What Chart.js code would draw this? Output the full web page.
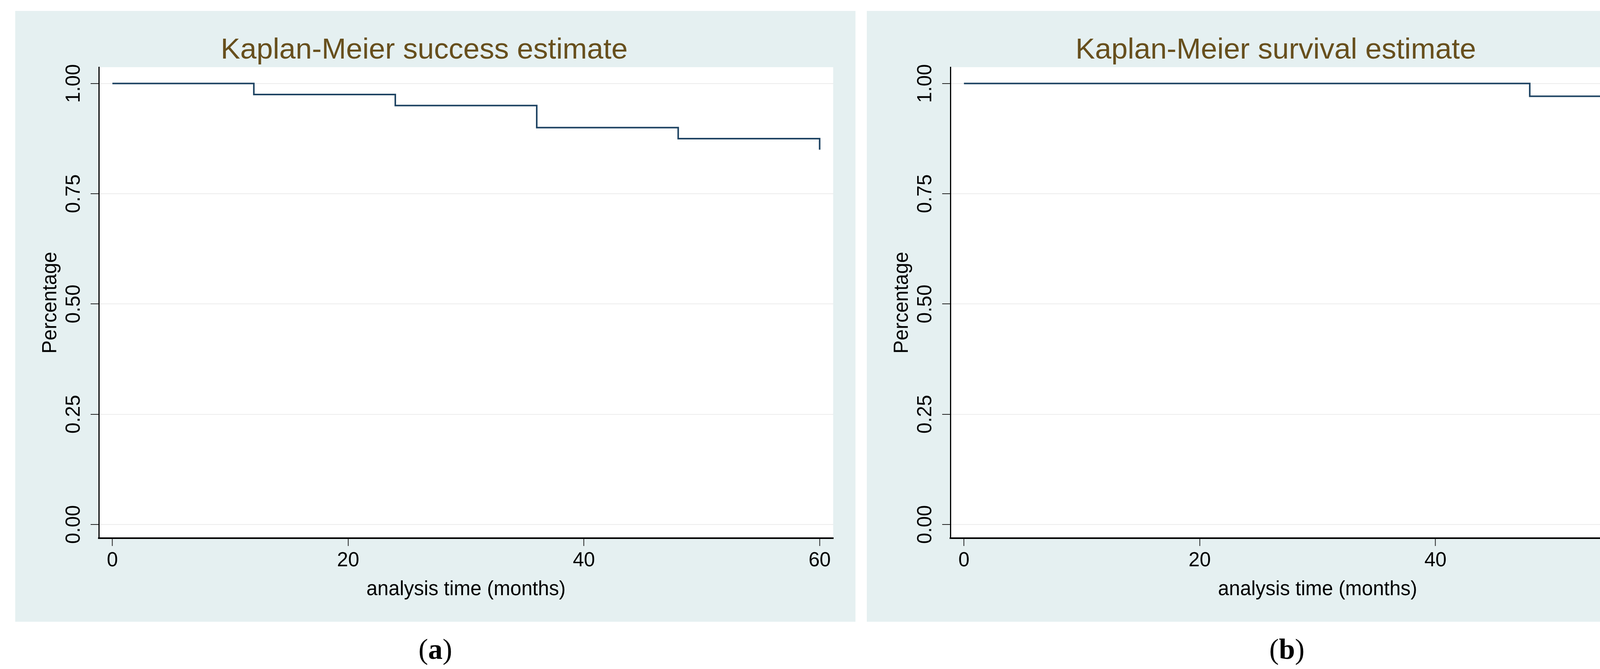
<!DOCTYPE html>
<html>
<head>
<meta charset="utf-8">
<script src="https://cdn.jsdelivr.net/npm/chart.js@4.4.1/dist/chart.umd.min.js"></script>
<style>
  html, body { margin: 0; padding: 0; background: #ffffff; }
  body { width: 4392px; height: 1713px; position: relative; overflow: hidden; }
  .panel { position: absolute; top: 28px; width: 2151px; height: 1564px; background: #e5f0f1; }
  .panel canvas { display: block; }
  .caption {
    position: absolute; top: 1620px; width: 2151px; text-align: center;
    font-family: "Liberation Serif", "DejaVu Serif", serif; font-size: 74px; color: #000;
    line-height: 84px;
  }
  .caption b { font-weight: bold; }
</style>
</head>
<body>
<div class="panel" style="left:39px"><canvas id="chart-success" width="2151" height="1564"></canvas></div>
<div class="panel" style="left:2219px"><canvas id="chart-survival" width="2151" height="1564"></canvas></div>
<div class="caption" style="left:39px">(<b>a</b>)</div>
<div class="caption" style="left:2219px">(<b>b</b>)</div>

<script>
document.addEventListener('DOMContentLoaded', () => {

  /* ========================================================
     1. DATA
     ======================================================== */
  const successTimes = [0, 12, 24, 36, 48, 60];
  const successValues = [1.00, 0.975, 0.95, 0.90, 0.875, 0.85];

  const survivalTimes = [0, 48, 60];
  const survivalValues = [1.00, 0.971, 0.943];

  const xTicks = [0, 20, 40, 60];
  const yTicks = [0, 0.25, 0.5, 0.75, 1];
  const yTickLabels = ['0.00', '0.25', '0.50', '0.75', '1.00'];

  const titleA = 'Kaplan-Meier success estimate';
  const titleB = 'Kaplan-Meier survival estimate';
  const xTitle = 'analysis time (months)';
  const yTitle = 'Percentage';

  /* ========================================================
     2. SHARED STYLE
     ======================================================== */
  const fontFamily = "'Liberation Sans', Arial, Helvetica, sans-serif";
  const lineColor = '#1f4463';
  const titleColor = '#674f1d';

  // white plot region behind the curve
  const plotRegionBg = {
    id: 'plotRegionBg',
    beforeDraw(chart) {
      const { ctx, chartArea } = chart;
      ctx.save();
      ctx.fillStyle = '#ffffff';
      ctx.fillRect(chartArea.left, chartArea.top, chartArea.right - chartArea.left, chartArea.bottom - chartArea.top);
      ctx.restore();
    }
  };

  function makeKM(canvasId, titleText, times, values) {
    const ctx = document.getElementById(canvasId).getContext('2d');
    const points = times.map((t, i) => ({ x: t, y: values[i] }));

    return new Chart(ctx, {
      type: 'line',
      data: {
        datasets: [{
          data: points,
          stepped: 'before',
          borderColor: lineColor,
          borderWidth: 4,
          pointRadius: 0,
          fill: false
        }]
      },
      plugins: [plotRegionBg],
      options: {
        responsive: false,
        animation: false,
        devicePixelRatio: 1,
        layout: { padding: { top: 0, right: 57, bottom: 0, left: 0 } },
        plugins: {
          legend: { display: false },
          tooltip: { enabled: false },
          title: {
            display: true,
            text: titleText,
            color: titleColor,
            font: { family: fontFamily, size: 75, weight: 'normal', lineHeight: 1 },
            padding: { top: 64, bottom: 5 }
          }
        },
        scales: {
          x: {
            type: 'linear',
            min: -1.15,
            max: 61.15,
            afterBuildTicks: scale => { scale.ticks = xTicks.map(v => ({ value: v })); },
            afterFit: scale => { scale.height = 214; },
            ticks: {
              color: '#000',
              padding: 7,
              font: { family: fontFamily, size: 51 }
            },
            grid: {
              drawOnChartArea: false,
              tickLength: 20,
              tickColor: '#222',
              tickWidth: 2
            },
            border: { display: true, color: '#000', width: 4 },
            title: {
              display: true,
              text: xTitle,
              color: '#000',
              font: { family: fontFamily, size: 51, lineHeight: 1 },
              padding: { top: 0, bottom: 57 }
            }
          },
          y: {
            type: 'linear',
            min: -0.031,
            max: 1.037,
            afterBuildTicks: scale => { scale.ticks = yTicks.map(v => ({ value: v })); },
            afterFit: scale => { scale.width = 214; },
            ticks: {
              color: '#000',
              minRotation: 90,
              maxRotation: 90,
              crossAlign: 'center',
              padding: -8,
              font: { family: fontFamily, size: 51 },
              callback: (value) => yTickLabels[yTicks.indexOf(value)]
            },
            grid: {
              color: '#ececec',
              lineWidth: 2,
              tickLength: 21,
              tickColor: '#222',
              tickWidth: 2
            },
            border: { display: true, color: '#000', width: 3 },
            title: {
              display: true,
              text: yTitle,
              color: '#000',
              font: { family: fontFamily, size: 51, lineHeight: 1 },
              padding: { top: 65, bottom: 0 }
            }
          }
        }
      }
    });
  }

  /* ========================================================
     3. RENDER BOTH PANELS
     ======================================================== */
  if (window.Chart) {
    makeKM('chart-success', titleA, successTimes, successValues);
    makeKM('chart-survival', titleB, survivalTimes, survivalValues);
  }

});
</script>
</body>
</html>
